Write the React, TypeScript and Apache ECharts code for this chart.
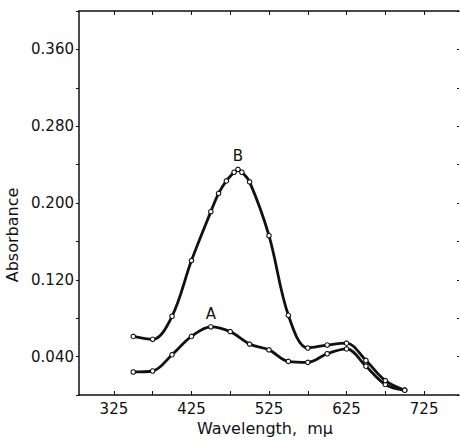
import React, { useEffect, useRef } from 'react';
import * as echarts from 'echarts';

// Curve A
const wavelengthsA = [350, 375, 400, 425, 450, 475, 500, 525, 550, 575, 600, 625, 650, 675, 700];
const absorbanceA = [0.024, 0.025, 0.042, 0.061, 0.071, 0.066, 0.053, 0.047, 0.035, 0.034, 0.043, 0.048, 0.030, 0.011, 0.005];
// Curve B
const wavelengthsB = [350, 375, 400, 425, 450, 460, 470, 480, 485, 490, 500, 525, 550, 575, 600, 625, 650, 675, 700];
const absorbanceB = [0.061, 0.058, 0.082, 0.140, 0.191, 0.210, 0.223, 0.232, 0.235, 0.232, 0.222, 0.166, 0.083, 0.049, 0.052, 0.054, 0.036, 0.015, 0.005];

const labelAAt = 450;
const labelBAt = 485;

const xTickValues = [325, 375, 425, 475, 525, 575, 625, 675, 725];
const xLabelValues = [325, 425, 525, 625, 725];
const yLabelValues = [0.04, 0.12, 0.2, 0.28, 0.36];

const FONT = 'DejaVu Sans';
const INK = '#111';

function buildData(xs: number[], ys: number[], labelAt: number, name: string) {
  return xs.map((x, i) => {
    if (x === labelAt) {
      return {
        value: [x, ys[i]],
        label: {
          show: true,
          formatter: name,
          position: 'top',
          distance: 3,
          fontSize: 15,
          fontFamily: FONT,
          color: INK,
        },
      };
    }
    return { value: [x, ys[i]] };
  });
}

export default function App() {
  const ref = useRef<HTMLDivElement>(null);
  useEffect(() => {
    if (!ref.current) return;
    const chart = echarts.init(ref.current, undefined, { renderer: 'svg' });
    const seriesStyle = {
      type: 'line',
      smooth: 0.35,
      symbol: 'circle',
      symbolSize: 4.5,
      lineStyle: { color: INK, width: 2.8 },
      itemStyle: { color: '#fff', borderColor: INK, borderWidth: 1.1 },
      z: 3,
    };
    chart.setOption({
      animation: false,
      backgroundColor: '#fff',
      grid: { left: 79, right: 1, top: 11, bottom: 47 },
      xAxis: [
        {
          type: 'value',
          min: 280,
          max: 770,
          axisLine: { show: true, lineStyle: { color: INK, width: 1.5 } },
          axisTick: { show: true, inside: true, length: 4, customValues: xTickValues, lineStyle: { color: INK } },
          axisLabel: {
            customValues: xLabelValues,
            fontSize: 15,
            fontFamily: FONT,
            color: INK,
            margin: 6,
          },
          splitLine: { show: false },
        },
        {
          type: 'value',
          position: 'top',
          min: 280,
          max: 770,
          axisLine: { show: true, onZero: false, lineStyle: { color: INK, width: 1.5 } },
          axisTick: { show: true, inside: true, length: 4, customValues: xTickValues, lineStyle: { color: INK } },
          axisLabel: { show: false },
          splitLine: { show: false },
        },
      ],
      yAxis: [
        {
          type: 'value',
          min: 0,
          max: 0.4,
          interval: 0.04,
          axisLine: { show: true, lineStyle: { color: INK, width: 1.5 } },
          axisTick: { show: true, inside: false, length: 3, lineStyle: { color: INK } },
          axisLabel: {
            customValues: yLabelValues,
            formatter: (v: number) => v.toFixed(3),
            fontSize: 15,
            fontFamily: FONT,
            color: INK,
            margin: 5,
          },
          splitLine: { show: false },
        },
        {
          type: 'value',
          position: 'right',
          min: 0,
          max: 0.4,
          interval: 0.04,
          axisLine: { show: false },
          axisTick: { show: true, inside: true, length: 2, lineStyle: { color: INK } },
          axisLabel: { show: false },
          splitLine: { show: false },
        },
      ],
      graphic: [
        {
          type: 'text',
          x: 12,
          y: 235,
          rotation: Math.PI / 2,
          style: {
            text: 'Absorbance',
            fontSize: 16,
            fontFamily: FONT,
            fill: INK,
            align: 'center',
            verticalAlign: 'middle',
          },
        },
        {
          type: 'text',
          x: 265,
          y: 428,
          style: {
            text: 'Wavelength,  mμ',
            fontSize: 16,
            fontFamily: FONT,
            fill: INK,
            align: 'center',
            verticalAlign: 'middle',
          },
        },
      ],
      series: [
        { ...seriesStyle, name: 'A', data: buildData(wavelengthsA, absorbanceA, labelAAt, 'A') },
        { ...seriesStyle, name: 'B', data: buildData(wavelengthsB, absorbanceB, labelBAt, 'B') },
      ],
    });
    return () => chart.dispose();
  }, []);
  return <div ref={ref} style={{ position: 'fixed', left: 0, top: 0, width: 460, height: 442 }} />;
}
